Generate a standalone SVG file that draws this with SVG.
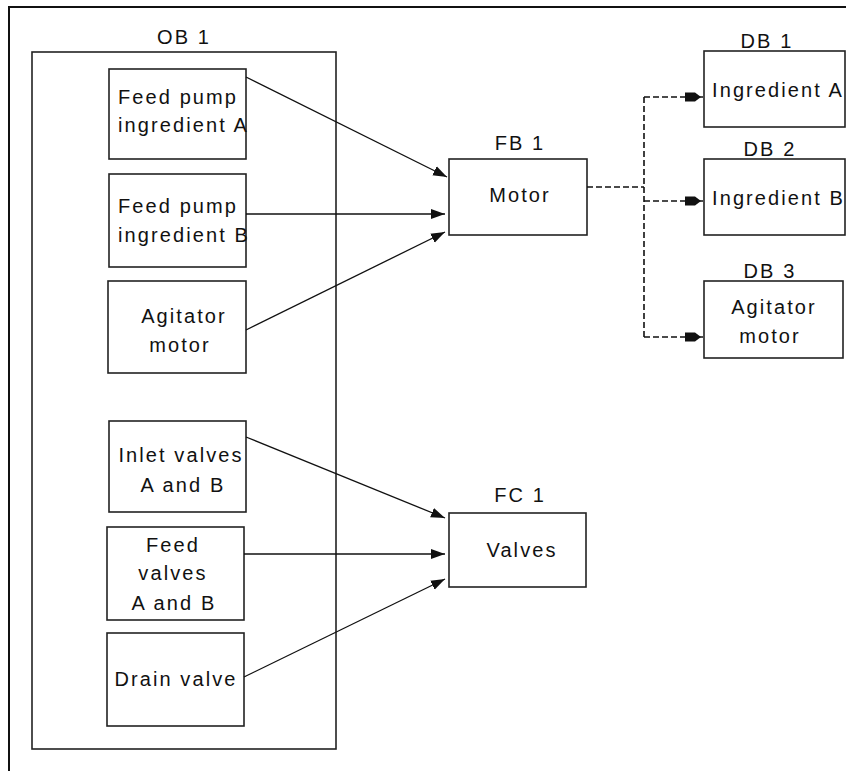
<svg xmlns="http://www.w3.org/2000/svg" width="846" height="771" viewBox="0 0 846 771">
<defs>
<style>
.bx{fill:#fff;stroke:#222;stroke-width:1.6}
.t{font-family:"Liberation Sans",Arial,sans-serif;font-size:20px;letter-spacing:2.1px;fill:#111}
.m{text-anchor:middle}
.ln{fill:none;stroke:#111;stroke-width:1.3}
.dl{fill:none;stroke:#111;stroke-width:1.6;stroke-dasharray:6,3}
</style>
<marker id="ah" markerUnits="userSpaceOnUse" markerWidth="15" markerHeight="11" refX="14" refY="5.5" orient="auto">
<path d="M0,0.5 L14,5.5 L0,10.5 Z" fill="#111"/>
</marker>
<marker id="dh" markerUnits="userSpaceOnUse" markerWidth="20" markerHeight="12" refX="19" refY="6" orient="auto">
<path d="M1,1.5 L11,1.5 L17,6 L11,10.5 L1,10.5 Z" fill="#111"/>
</marker>
</defs>
<rect width="846" height="771" fill="#fff"/>
<g id="frame">
<path d="M9,771 V7 H846" fill="none" stroke="#111" stroke-width="2"/>
</g>
<g id="OB1">
<rect class="bx" x="32" y="52" width="304" height="697"/>
<text class="t m" x="184" y="44">OB 1</text>
</g>
<g id="feedpumpA">
<rect class="bx" x="109" y="69" width="137" height="90"/>
<text class="t" x="118" y="104">Feed pump</text>
<text class="t" x="118" y="132">ingredient A</text>
</g>
<g id="feedpumpB">
<rect class="bx" x="109" y="174" width="137" height="93"/>
<text class="t" x="118" y="213">Feed pump</text>
<text class="t" x="118" y="242">ingredient B</text>
</g>
<g id="agitator">
<rect class="bx" x="108" y="281" width="138" height="92"/>
<text class="t m" x="184" y="323">Agitator</text>
<text class="t m" x="180" y="352">motor</text>
</g>
<g id="inletvalves">
<rect class="bx" x="109" y="421" width="137" height="91"/>
<text class="t m" x="181" y="462">Inlet valves</text>
<text class="t m" x="183" y="492">A and B</text>
</g>
<g id="feedvalves">
<rect class="bx" x="107" y="527" width="137" height="93"/>
<text class="t m" x="173" y="552">Feed</text>
<text class="t m" x="173" y="580">valves</text>
<text class="t m" x="174" y="610">A and B</text>
</g>
<g id="drainvalve">
<rect class="bx" x="107" y="633" width="137" height="93"/>
<text class="t m" x="176" y="686">Drain valve</text>
</g>
<g id="FB1">
<rect class="bx" x="449" y="159" width="138" height="76"/>
<text class="t m" x="520" y="150">FB 1</text>
<text class="t m" x="520" y="202">Motor</text>
</g>
<g id="FC1">
<rect class="bx" x="449" y="513" width="137" height="74"/>
<text class="t m" x="520" y="502">FC 1</text>
<text class="t m" x="522" y="557">Valves</text>
</g>
<g id="DB1">
<rect class="bx" x="704" y="51" width="141" height="76"/>
<text class="t m" x="767" y="48">DB 1</text>
<text class="t" x="712" y="97">Ingredient A</text>
</g>
<g id="DB2">
<rect class="bx" x="704" y="159" width="141" height="76"/>
<text class="t m" x="770" y="156">DB 2</text>
<text class="t" x="712" y="205">Ingredient B</text>
</g>
<g id="DB3">
<rect class="bx" x="704" y="281" width="139" height="77"/>
<text class="t m" x="770" y="278">DB 3</text>
<text class="t m" x="774" y="314">Agitator</text>
<text class="t m" x="770" y="343">motor</text>
</g>
<g id="connectors">
<line class="ln" x1="246" y1="77" x2="447" y2="177" marker-end="url(#ah)"/>
<line class="ln" x1="246" y1="214" x2="445" y2="214" marker-end="url(#ah)"/>
<line class="ln" x1="246" y1="330" x2="445" y2="232" marker-end="url(#ah)"/>
<line class="ln" x1="246" y1="437" x2="445" y2="518" marker-end="url(#ah)"/>
<line class="ln" x1="244" y1="554" x2="445" y2="554" marker-end="url(#ah)"/>
<line class="ln" x1="244" y1="677" x2="445" y2="579" marker-end="url(#ah)"/>
<path class="dl" d="M587,187 H644"/>
<path class="dl" d="M644,97 V337"/>
<path class="dl" d="M644,97 H703" marker-end="url(#dh)"/>
<path class="dl" d="M644,201 H703" marker-end="url(#dh)"/>
<path class="dl" d="M644,337 H703" marker-end="url(#dh)"/>
</g>
</svg>
